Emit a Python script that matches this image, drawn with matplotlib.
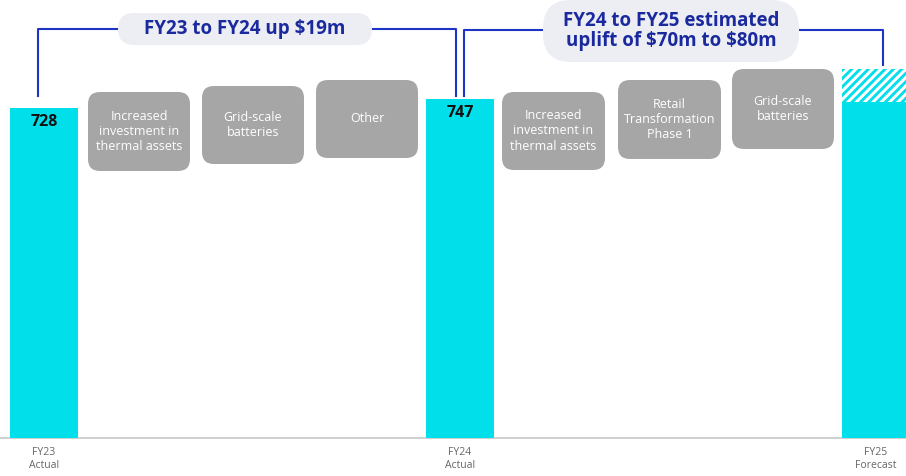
import matplotlib
matplotlib.use("Agg")
import matplotlib.pyplot as plt
from matplotlib.patches import FancyBboxPatch

plt.rcParams['font.family'] = ['Open Sans', 'DejaVu Sans']
plt.rcParams['hatch.linewidth'] = 2.2
plt.rcParams['text.parse_math'] = False

# data
categories = ['FY23\nActual', 'FY24\nActual', 'FY25\nForecast']
values = [728, 747, 741]
value_labels = ['728', '747', '']
fy25_hatch = 73  # estimated uplift band on top of FY25 bar

drivers_fy24 = ['Increased\ninvestment in\nthermal assets', 'Grid-scale\nbatteries', 'Other']
drivers_fy25 = ['Increased\ninvestment in\nthermal assets', 'Retail\nTransformation\nPhase 1', 'Grid-scale\nbatteries']
callout_1 = 'FY23 to FY24 up $19m'
callout_2 = 'FY24 to FY25 estimated\nuplift of $70m to $80m'

CYAN = '#00dfea'
BOXGRAY = '#a6a6a6'
BLUE = '#1f33c4'
TEXTBLUE = '#1a2a9e'
PILL = '#eceef4'

W, H = 906, 476
fig = plt.figure(figsize=(W / 100, H / 100), dpi=100)

# bar axes: baseline at y=438px, 0.4533 px per unit
scale = 0.4533
ax = fig.add_axes([0, 0, 1, 1])
ax.set_xlim(-44 / 416, 2 + 30 / 416)
ax.set_ylim(-(H - 438) / scale, 438 / scale)
ax.axis('off')

x = list(range(len(categories)))
bw = 68 / 416
ax.bar(x, values, width=bw, color=CYAN, linewidth=0, zorder=2)
ax.bar(x[2], fy25_hatch, bottom=values[2], width=bw, color=CYAN,
       hatch='////', edgecolor='white', linewidth=0, zorder=2)
ax.axhline(0, color='#c8c8c8', lw=1.2, zorder=1)

for xi, v, lab in zip(x, values, value_labels):
    if lab:
        ax.text(xi, v - 14 / scale, lab, ha='center', va='center', fontsize=11.5,
                fontweight='bold', color='#111111', zorder=3)

for xi, cat in zip(x, categories):
    ax.text(xi, -9 / scale, cat, ha='center', va='top', fontsize=7.5,
            color='#666666', linespacing=1.3)

# overlay in pixel coords for callouts and driver boxes
ov = fig.add_axes([0, 0, 1, 1])
ov.set_xlim(0, W)
ov.set_ylim(H, 0)
ov.axis('off')
ov.patch.set_alpha(0)


def rbox(x0, y0, x1, y1, color, r):
    ov.add_patch(FancyBboxPatch((x0, y0), x1 - x0, y1 - y0,
                                boxstyle=f'round,pad=0,rounding_size={r}',
                                fc=color, ec='none', zorder=2))


boxes_left = [(88, 92, 190, 171), (202, 86, 304, 164), (316, 80, 418, 158)]
boxes_right = [(502, 92, 605, 170), (618, 80, 721, 159), (732, 69, 834, 149)]
for (x0, y0, x1, y1), lab in zip(boxes_left + boxes_right, drivers_fy24 + drivers_fy25):
    rbox(x0, y0, x1, y1, BOXGRAY, 12)
    ov.text((x0 + x1) / 2, (y0 + y1) / 2, lab, ha='center', va='center',
            fontsize=9, color='white', linespacing=1.25, zorder=3)

# bracket 1
ov.plot([38, 38, 118], [96, 29, 29], color=BLUE, lw=1.5, zorder=1)
ov.plot([372, 456, 456], [29, 29, 96], color=BLUE, lw=1.5, zorder=1)
rbox(118, 13, 372, 45, PILL, 16)
ov.text(245, 29, callout_1, ha='center', va='center', fontsize=13.5,
        fontweight='bold', color=TEXTBLUE, zorder=3)

# bracket 2
ov.plot([464, 464, 545], [96, 30, 30], color=BLUE, lw=1.5, zorder=1)
ov.plot([796, 883, 883], [30, 30, 65], color=BLUE, lw=1.5, zorder=1)
rbox(543, 0, 799, 62, PILL, 28)
ov.text(671, 31, callout_2, ha='center', va='center', fontsize=13.5,
        fontweight='bold', color=TEXTBLUE, linespacing=1.02, zorder=3)

fig.savefig('out.png', dpi=100)
